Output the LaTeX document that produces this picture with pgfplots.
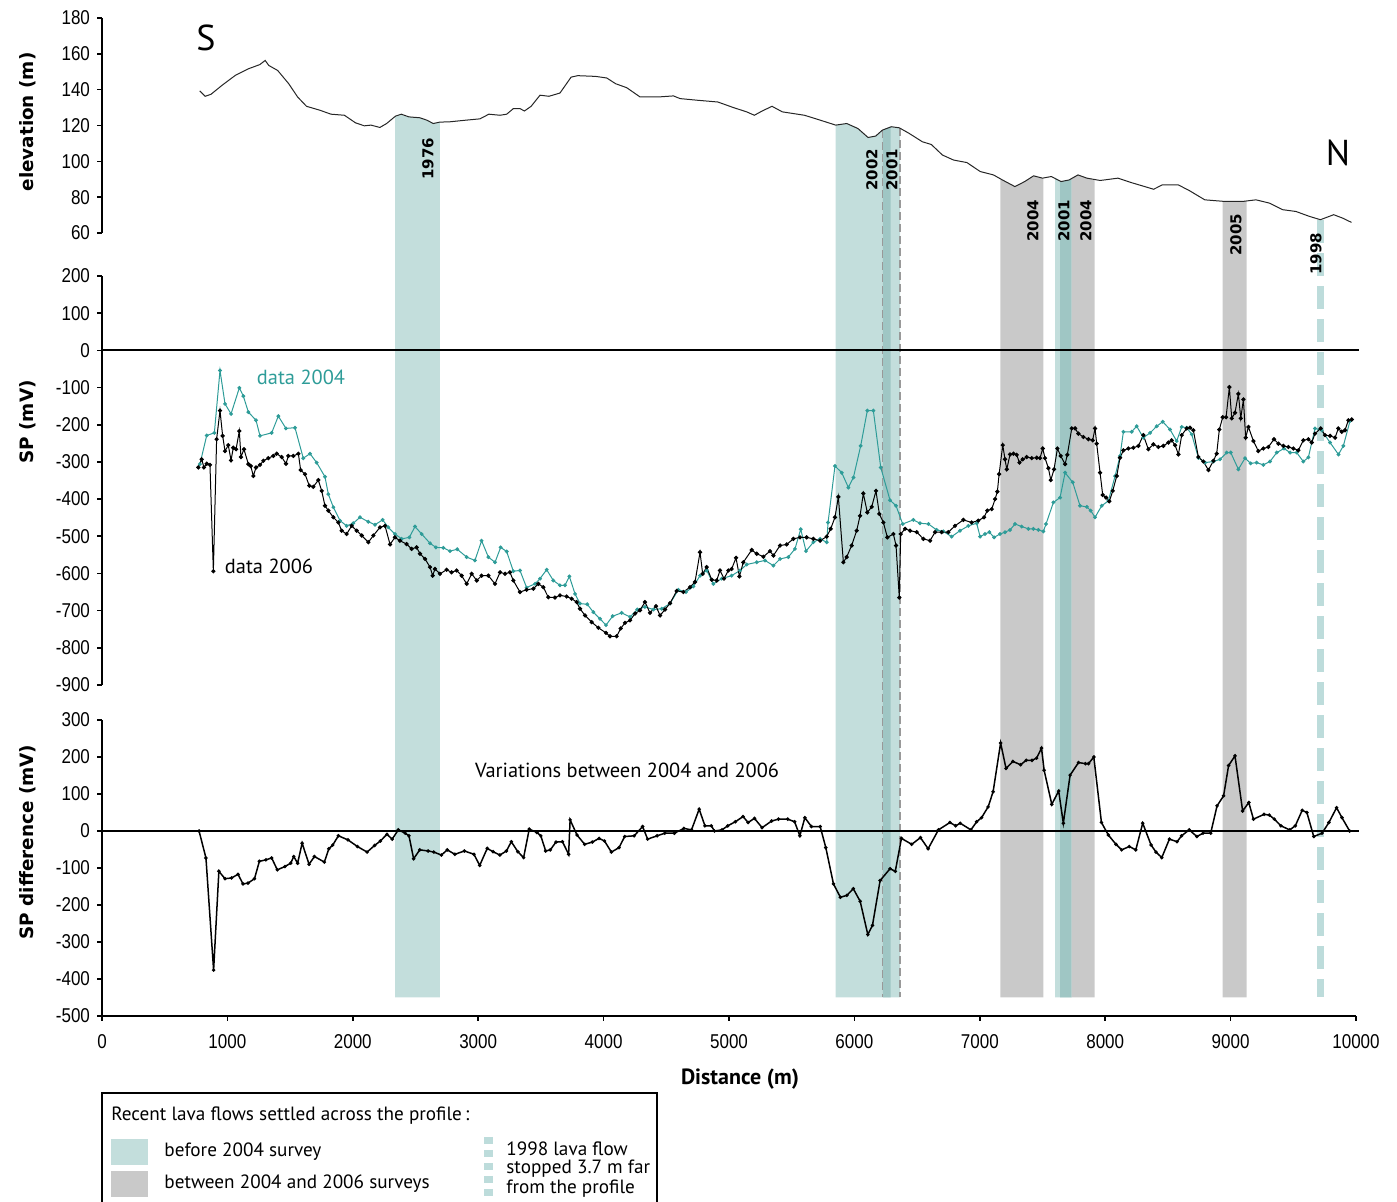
\documentclass[border=0pt]{standalone}
\usepackage{fontspec}
\setmainfont{PT Sans}
\newfontfamily\tickfont[FakeStretch=0.85]{Liberation Sans}
\newfontfamily\labfont{DejaVu Sans}
\usepackage{pgfplots}
\pgfplotsset{compat=1.18}

\definecolor{tealband}{HTML}{C3DEDC}
\definecolor{tealdark}{HTML}{9FC6C4}
\definecolor{greyband}{HTML}{C9C9C9}
\definecolor{teal04}{HTML}{2E9C98}
\definecolor{dash98}{HTML}{BDDCDB}

\pgfplotsset{
  panel/.style={
    scale only axis, width=627pt, xmin=0, xmax=10000,
    axis y line*=left,
    tick align=outside, major tick length=2.5pt,
    axis line style={line width=1pt, black},
    tick style={line width=0.8pt, black},
    ticklabel style={font=\tickfont\fontsize{10}{12}\selectfont},
    scaled x ticks=false, scaled y ticks=false,
    /pgf/number format/assume math mode=true,
    /pgf/number format/1000 sep={},
    clip=false, anchor=south west,
  },
}

\begin{document}
\begin{tikzpicture}
\useasboundingbox (0,0) rectangle (698.5pt,601pt);

% ---------- elevation (bands hang from the profile down to the bottom panel)
\begin{axis}[panel, hide x axis, at={(51pt,484.5pt)}, height=107.5pt,
  ymin=60, ymax=180, ytick={60,80,...,180}]
\addplot[fill=tealband, draw=none] coordinates {(2338,-366.7) (2338,125.2) (2387,126.3) (2447,124.8) (2535,124.3) (2589,123) (2642,121.1) (2694,121.9) (2694,-366.7)};
\addplot[fill=tealband, draw=none] coordinates {(5850,-366.7) (5850,120.2) (5939,121.1) (6028,118.3) (6109,113.3) (6170,114.1) (6223,117.4) (6294,119.3) (6364,118.5) (6364,-366.7)};
\addplot[fill=tealdark, draw=none] coordinates {(6226,-366.7) (6226,117.5) (6289,119.2) (6289,-366.7)};
\addplot[fill=greyband, draw=none] coordinates {(7163,-366.7) (7163,90) (7180,89.6) (7280,85.9) (7358,88.7) (7429,91.9) (7507,90.6) (7507,-366.7)};
\addplot[fill=tealband, draw=none] coordinates {(7600,-366.7) (7600,91) (7648,88.7) (7712,89.6) (7733,90.5) (7733,-366.7)};
\addplot[fill=tealdark, draw=none] coordinates {(7640,-366.7) (7640,88.8) (7712,89.6) (7733,90.5) (7733,-366.7)};
\addplot[fill=greyband, draw=none] coordinates {(7733,-366.7) (7733,90.5) (7783,92.4) (7854,90.6) (7915,89.5) (7915,-366.7)};
\addplot[fill=greyband, draw=none] coordinates {(8936,-366.7) (8936,77.6) (9040,77.6) (9128,77.9) (9128,-366.7)};
\addplot[draw=black!40, line width=0.7pt, dash pattern=on 4pt off 2pt] coordinates {(6226,117.4) (6226,-366.7)};
\addplot[draw=black!40, line width=0.7pt, dash pattern=on 4pt off 2pt] coordinates {(6364,118.5) (6364,-366.7)};
\addplot[draw=dash98, line width=3.5pt, dash pattern=on 11.5pt off 5pt] coordinates {(9715,67) (9715,-366.7)};
\addplot[black!85, line width=0.5pt] coordinates {
(780,139.3) (823,136.3) (869,137.4) (957,142.4) (1064,148) (1170,151.7) (1259,154) (1301,156.3)
(1330,153.5) (1401,150.7) (1489,143.3) (1560,135.9) (1631,130.7) (1738,128.5) (1826,126.3)
(1933,125.7) (2021,121.5) (2092,119.8) (2145,120.2) (2216,118.9) (2270,121.1) (2340,125.2)
(2387,126.3) (2447,124.8) (2535,124.3) (2589,123) (2642,121.1) (2695,121.9) (2766,122)
(2908,123) (3014,123.7) (3085,126.3) (3174,125.7) (3227,126.3) (3280,129.4) (3333,129.4)
(3369,128.1) (3422,130.7) (3493,136.9) (3564,136.3) (3652,138.1) (3741,147) (3794,147.8)
(3936,147.4) (4025,146.5) (4096,143.3) (4184,141.1) (4291,135.9) (4433,135.9) (4557,136.5)
(4610,135) (4745,134.1) (4911,133.1) (5035,130) (5141,127.6) (5202,125.7) (5265,128.1)
(5343,130.7) (5425,127.6) (5602,125.7) (5726,123) (5851,120.2) (5939,121.1) (6028,118.3)
(6109,113.3) (6170,114.1) (6223,117.4) (6294,119.3) (6358,118.7) (6436,115.6) (6542,110.9)
(6613,109.4) (6702,103.5) (6791,100.7) (6897,99.3) (7003,94.3) (7109,92.4) (7180,89.6)
(7280,85.9) (7358,88.7) (7429,91.9) (7500,90.6) (7570,91.5) (7648,88.7) (7712,89.6)
(7783,92.4) (7854,90.6) (7960,89.3) (8102,90.6) (8209,88.1) (8315,85.9) (8386,84.4)
(8457,86.9) (8581,86.9) (8670,83.7) (8794,78.5) (8954,77.6) (9096,77.6) (9202,78.5)
(9308,76.7) (9415,73) (9521,72) (9627,69.3) (9716,67.4) (9822,70.2) (9893,68.3) (9964,65.9)};
\end{axis}

% ---------- SP
\begin{axis}[panel, hide x axis, at={(51pt,258.5pt)}, height=204.5pt,
  ymin=-900, ymax=200, ytick={-900,-800,...,200}]
\addplot[black, line width=1pt] coordinates {(0,0) (10020,0)};
\addplot[teal04, line width=0.5pt, mark=*, mark size=0.7pt] coordinates {
(781,-306) (835,-229) (896,-222) (941,-54) (981,-144) (1029,-171) (1095,-101) (1127,-123)
(1167,-166) (1228,-188) (1260,-230) (1353,-222) (1406,-177) (1467,-210) (1539,-208) (1605,-290)
(1659,-278) (1712,-302) (1778,-340) (1805,-387) (1845,-422) (1898,-458) (1951,-472) (2004,-465)
(2057,-449) (2124,-461) (2177,-469) (2238,-456) (2283,-476) (2336,-494) (2390,-507) (2451,-503)
(2496,-474) (2549,-494) (2616,-519) (2663,-530) (2722,-531) (2775,-540) (2833,-535) (2908,-556)
(2974,-565) (3027,-512) (3081,-556) (3134,-570) (3179,-530) (3227,-541) (3280,-594) (3333,-592)
(3386,-638) (3453,-628) (3493,-614) (3546,-590) (3599,-619) (3652,-632) (3692,-632) (3727,-608)
(3772,-655) (3812,-681) (3870,-683) (3918,-704) (3971,-722) (4019,-739) (4072,-715) (4144,-706)
(4211,-717) (4269,-697) (4330,-690) (4397,-697) (4463,-695) (4530,-681) (4596,-644) (4657,-650)
(4716,-635) (4769,-606) (4822,-592) (4875,-628) (4942,-614) (5021,-606) (5088,-592) (5141,-576)
(5221,-570) (5287,-565) (5354,-579) (5407,-561) (5473,-556) (5526,-534) (5572,-481) (5614,-540)
(5673,-516) (5726,-507) (5779,-516) (5790,-463) (5845,-311) (5899,-329) (5952,-369) (5992,-342)
(6050,-257) (6103,-162) (6151,-162) (6210,-315) (6284,-403) (6332,-418) (6385,-467) (6470,-456)
(6523,-465) (6590,-467) (6656,-483) (6709,-487) (6776,-501) (6842,-485) (6909,-472) (6975,-465)
(7002,-501) (7042,-494) (7076,-489) (7114,-503) (7161,-494) (7201,-489) (7241,-483) (7281,-467)
(7334,-474) (7387,-480) (7427,-480) (7467,-483) (7507,-487) (7528,-467) (7587,-409) (7640,-396)
(7680,-329) (7741,-355) (7799,-418) (7853,-421) (7884,-431) (7919,-449) (7972,-418) (8025,-405)
(8079,-338) (8118,-284) (8145,-219) (8211,-219) (8251,-204) (8304,-235) (8358,-222) (8411,-204)
(8459,-192) (8517,-213) (8570,-244) (8610,-206) (8650,-208) (8690,-226) (8743,-289) (8796,-302)
(8863,-299) (8916,-293) (8969,-275) (9001,-275) (9062,-320) (9115,-290) (9160,-304) (9208,-302)
(9261,-308) (9314,-299) (9368,-275) (9426,-264) (9474,-275) (9527,-275) (9580,-299) (9620,-288)
(9673,-210) (9726,-215) (9793,-248) (9860,-280) (9899,-257) (9952,-190)};
\addplot[black, line width=0.5pt, mark=*, mark size=0.8pt] coordinates {
(768,-315) (795,-293) (813,-315) (835,-305) (861,-308) (888,-594) (914,-239) (941,-162)
(962,-230) (981,-271) (1007,-255) (1029,-296) (1047,-262) (1069,-266) (1095,-217) (1108,-287)
(1132,-266) (1167,-306) (1186,-311) (1207,-338) (1228,-315) (1260,-308) (1287,-297) (1326,-290)
(1366,-284) (1393,-278) (1433,-287) (1467,-305) (1486,-284) (1526,-284) (1566,-278) (1584,-322)
(1619,-333) (1653,-364) (1685,-367) (1725,-349) (1752,-378) (1778,-418) (1805,-431) (1845,-449)
(1885,-463) (1911,-485) (1951,-494) (1991,-472) (2031,-485) (2071,-498) (2124,-516) (2164,-498)
(2217,-476) (2257,-472) (2297,-522) (2336,-503) (2376,-512) (2429,-521) (2469,-534) (2509,-530)
(2536,-547) (2576,-561) (2616,-583) (2637,-606) (2655,-588) (2695,-601) (2748,-590) (2788,-597)
(2828,-592) (2868,-606) (2908,-628) (2948,-601) (2988,-619) (3027,-606) (3081,-606) (3134,-628)
(3174,-597) (3214,-601) (3253,-597) (3280,-619) (3333,-650) (3386,-644) (3440,-641) (3480,-628)
(3519,-637) (3559,-664) (3612,-665) (3652,-659) (3705,-662) (3745,-668) (3785,-677) (3812,-695)
(3852,-713) (3905,-731) (3958,-746) (4019,-760) (4051,-769) (4104,-769) (4136,-748) (4171,-733)
(4211,-726) (4251,-708) (4290,-699) (4330,-677) (4370,-706) (4418,-688) (4450,-713) (4490,-697)
(4530,-680) (4583,-647) (4636,-650) (4689,-637) (4729,-623) (4769,-543) (4790,-601) (4822,-583)
(4862,-617) (4902,-619) (4928,-592) (4960,-614) (4995,-592) (5021,-588) (5056,-558) (5083,-608)
(5114,-570) (5181,-537) (5221,-547) (5274,-555) (5327,-540) (5354,-552) (5407,-525) (5460,-522)
(5513,-507) (5566,-503) (5619,-503) (5673,-507) (5726,-512) (5779,-501) (5811,-480) (5845,-449)
(5872,-394) (5912,-570) (5938,-556) (5978,-525) (6018,-485) (6045,-445) (6071,-385) (6103,-436)
(6138,-421) (6172,-378) (6199,-440) (6231,-463) (6263,-503) (6311,-494) (6332,-525) (6358,-665)
(6369,-494) (6404,-480) (6444,-485) (6497,-489) (6550,-507) (6603,-512) (6643,-489) (6696,-489)
(6749,-489) (6802,-472) (6869,-456) (6935,-463) (6988,-458) (7034,-449) (7060,-431) (7095,-427)
(7122,-400) (7140,-380) (7154,-333) (7183,-255) (7201,-293) (7215,-320) (7241,-280) (7268,-278)
(7294,-281) (7316,-302) (7342,-293) (7374,-287) (7414,-290) (7454,-289) (7480,-290) (7502,-264)
(7520,-290) (7547,-317) (7566,-349) (7592,-320) (7619,-264) (7645,-284) (7680,-306) (7698,-281)
(7733,-210) (7760,-210) (7786,-224) (7826,-233) (7866,-239) (7900,-242) (7919,-210) (7932,-251)
(7959,-329) (7980,-389) (8007,-396) (8033,-406) (8060,-378) (8092,-338) (8118,-289) (8145,-269)
(8185,-264) (8225,-262) (8265,-257) (8304,-228) (8344,-266) (8384,-253) (8424,-260) (8464,-257)
(8504,-248) (8530,-242) (8557,-255) (8584,-280) (8610,-228) (8650,-210) (8677,-208) (8703,-215)
(8743,-287) (8783,-299) (8823,-322) (8863,-297) (8889,-278) (8910,-213) (8937,-180) (8964,-180)
(8990,-99) (9009,-183) (9035,-168) (9062,-117) (9081,-183) (9102,-132) (9120,-235) (9142,-206)
(9182,-244) (9221,-271) (9261,-264) (9301,-260) (9346,-239) (9381,-251) (9421,-257) (9461,-260)
(9501,-264) (9540,-269) (9580,-242) (9620,-239) (9647,-248) (9673,-224) (9718,-210) (9753,-228)
(9793,-230) (9833,-235) (9859,-210) (9886,-219) (9912,-215) (9939,-188) (9966,-186)};
\end{axis}

% ---------- SP difference
\begin{axis}[panel, at={(51pt,93pt)}, height=148pt,
  axis x line*=bottom, xtick={0,1000,...,10000},
  xticklabel style={yshift=-3pt},
  ymin=-500, ymax=300, ytick={-500,-400,...,300}]
\addplot[black, line width=1pt] coordinates {(0,0) (10020,0)};
\addplot[black, line width=0.75pt, mark=*, mark size=0.45pt] coordinates {
(774,0) (829,-73) (890,-376) (932,-109) (981,-129) (1033,-127) (1085,-117) (1124,-143)
(1164,-141) (1216,-129) (1255,-82) (1307,-78) (1353,-73) (1398,-105) (1459,-96) (1505,-87)
(1529,-69) (1560,-87) (1596,-33) (1651,-90) (1694,-69) (1773,-84) (1809,-48) (1840,-38)
(1885,-13) (1961,-24) (2037,-42) (2114,-57) (2174,-39) (2220,-27) (2272,-9) (2314,-22)
(2363,3) (2418,-6) (2448,-13) (2485,-75) (2534,-51) (2601,-54) (2646,-57) (2707,-65)
(2753,-51) (2814,-63) (2890,-54) (2966,-63) (3012,-93) (3072,-47) (3118,-56) (3173,-65)
(3225,-54) (3264,-29) (3316,-56) (3362,-72) (3407,5) (3468,-4) (3499,-13) (3538,-54)
(3575,-51) (3620,-30) (3672,-29) (3721,-63) (3733,30) (3788,-11) (3849,-36) (3910,-30)
(3964,-20) (4007,-27) (4062,-57) (4123,-45) (4168,-15) (4244,-13) (4311,12) (4351,-22)
(4427,-13) (4488,-6) (4564,-6) (4640,7) (4701,3) (4762,59) (4808,14) (4859,14) (4884,0)
(4944,3) (4990,14) (5051,25) (5112,39) (5152,23) (5203,34) (5264,9) (5340,27) (5395,32)
(5468,32) (5523,25) (5565,-13) (5605,36) (5657,12) (5727,12) (5772,-45) (5833,-143)
(5888,-179) (5940,-174) (5991,-156) (6046,-190) (6107,-280) (6144,-255) (6205,-134) (6284,-102)
(6326,-109) (6375,-20) (6457,-36) (6527,-18) (6588,-48) (6670,3) (6762,23) (6807,14) (6844,21)
(6929,3) (6975,25) (7014,36) (7066,65) (7106,106) (7166,238) (7209,169) (7264,188) (7325,179)
(7370,191) (7416,191) (7453,197) (7492,224) (7513,164) (7574,72) (7629,108) (7666,21)
(7720,151) (7787,185) (7842,182) (7867,182) (7909,200) (7970,23) (8025,-11) (8086,-36)
(8131,-51) (8192,-42) (8244,-51) (8299,21) (8366,-38) (8405,-57) (8451,-72) (8512,-22)
(8573,-29) (8609,-13) (8670,3) (8731,-15) (8780,-6) (8841,-6) (8892,68) (8944,95) (8984,177)
(9035,203) (9096,54) (9145,77) (9182,32) (9267,45) (9309,43) (9349,32) (9401,14) (9471,3)
(9516,14) (9571,56) (9608,50) (9663,-15) (9729,-6) (9784,23) (9845,63) (9888,36) (9949,0)};
\end{axis}

% ---------- text, in reference pixel coordinates
\begin{scope}[shift={(0pt,601pt)}, x=0.5pt, y=-0.5pt]
\tikzset{ylab/.style={rotate=90, font=\labfont\bfseries\fontsize{9.2}{11}\selectfont},
  yr/.style={rotate=90, font=\labfont\bfseries\fontsize{7.5}{9}\selectfont},
  txt/.style={font=\fontsize{10.2}{12}\selectfont, inner sep=0pt}}
\node[ylab] at (28,122) {elevation (m)};
\node[ylab] at (28,422) {SP (mV)};
\node[ylab] at (28,842) {SP difference (mV)};
\node[font=\bfseries\fontsize{11}{13}\selectfont] at (740,1079) {Distance (m)};
\node[font=\fontsize{18}{20}\selectfont] at (206,38) {S};
\node[font=\fontsize{18}{20}\selectfont] at (1338,153) {N};
\node[txt, text=teal04] at (301,377) {data 2004};
\node[txt] at (269,566) {data 2006};
\node[txt] at (627,770) {Variations between 2004 and 2006};
\node[yr] at (428,159) {1976};
\node[yr] at (872,170) {2002};
\node[yr] at (892,170) {2001};
\node[yr] at (1033,221) {2004};
\node[yr] at (1064,221) {2001};
\node[yr] at (1086,221) {2004};
\node[yr] at (1236,235) {2005};
\node[yr] at (1316,254) {1998};
% legend
\draw[line width=0.6pt] (102,1093) rectangle (657,1215);
\fill[tealband] (111,1139) rectangle (148,1165);
\fill[greyband] (111,1171) rectangle (148,1197);
\draw[dash98, line width=4.5pt, dash pattern=on 3.5pt off 3pt] (488,1137) -- (488,1202);
\tikzset{lt/.style={font=\fontsize{9.6}{11}\selectfont, anchor=west, inner sep=0pt}}
\node[lt] at (111,1116) {Recent lava flows settled across the profile\,:};
\node[lt] at (164,1152) {before 2004 survey};
\node[lt] at (164,1184) {between 2004 and 2006 surveys};
\node[lt] at (506,1149) {1998 lava flow};
\node[lt] at (506,1169) {stopped 3.7 m far};
\node[lt] at (506,1189) {from the profile};
\end{scope}
\end{tikzpicture}
\end{document}
